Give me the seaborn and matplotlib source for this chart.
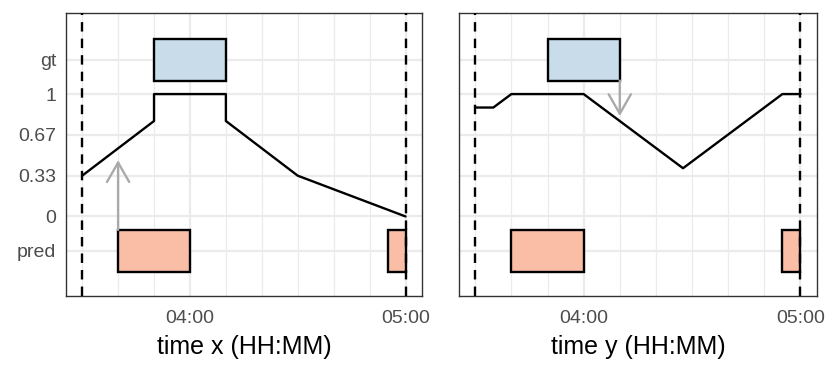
import matplotlib
matplotlib.use("Agg")
import matplotlib.pyplot as plt
from matplotlib.ticker import FixedLocator, MultipleLocator, FuncFormatter
import seaborn as sns
import pandas as pd

# Daten (Zeit in Minuten ab Mitternacht)
start_min, end_min = 210, 300

# Panel x: Kurve
x_curve_t = [210, 230, 230, 250, 250, 270, 300]
x_curve_v = [0.333, 0.78, 1.0, 1.0, 0.78, 0.333, 0.0]
# Panel y: Kurve
y_curve_t = [210, 215, 220, 240, 267.5, 295, 300]
y_curve_v = [0.89, 0.89, 1.0, 1.0, 0.394, 1.0, 1.0]

# Intervalle (Start, Dauer)
gt_start, gt_dur = [230], [20]
pred_start, pred_dur = [220, 295], [20, 5]

# Pfeile: (Zeit, von, bis)
x_arrow = (220, -0.11, 0.46)
y_arrow = (250, 1.11, 0.82)

ytick_pos = [-0.28, 0, 0.333, 0.667, 1, 1.28]
ytick_lab = ["pred", "0", "0.33", "0.67", "1", "gt"]

gt_color = "#c8dde9"
pred_color = "#fabea6"

sns.set_style("white")
plt.rcParams["font.family"] = ["Liberation Sans", "DejaVu Sans"]

fig = plt.figure(figsize=(8.3, 3.74), dpi=100)
W, H = 830, 374
ax1 = fig.add_axes([66 / W, (H - 296) / H, (421.7 - 66) / W, (296 - 13.3) / H])
ax2 = fig.add_axes([459 / W, (H - 296) / H, (816.7 - 459) / W, (296 - 13.3) / H])


def hhmm(v, pos):
    return f"{int(v // 60):02d}:{int(v % 60):02d}"


def draw_panel(ax, t, v, arrow, xlabel, show_labels):
    pad = (end_min - start_min) * 0.05
    ax.set_xlim(start_min - pad, end_min + pad)
    ax.set_ylim(-0.65, 1.66)

    # Gitter
    ax.xaxis.set_major_locator(FixedLocator([240, 300]))
    ax.xaxis.set_minor_locator(MultipleLocator(10))
    ax.xaxis.set_major_formatter(FuncFormatter(hhmm))
    ax.yaxis.set_major_locator(FixedLocator(ytick_pos))
    ax.set_yticklabels(ytick_lab if show_labels else [], fontsize=14)
    ax.grid(True, which="major", color="#ebebeb", lw=1.6, zorder=0)
    ax.grid(True, which="minor", axis="x", color="#ebebeb", lw=0.9, zorder=0)
    ax.set_axisbelow(True)
    ax.tick_params(which="major", length=4, width=1.0, color="#333333",
                   labelcolor="#4d4d4d", labelsize=14, direction="out", pad=3)
    ax.tick_params(axis="x", pad=6)
    ax.tick_params(which="minor", length=0)
    for s in ax.spines.values():
        s.set_color("#333333")
        s.set_linewidth(1.0)

    # Intervalle
    ax.barh(y=1.28, width=gt_dur, left=gt_start, height=0.34, color=gt_color,
            edgecolor="black", linewidth=1.7, zorder=3)
    ax.barh(y=-0.28, width=pred_dur, left=pred_start, height=0.34, color=pred_color,
            edgecolor="black", linewidth=1.7, zorder=3)

    # Kurve
    df = pd.DataFrame({"t": t, "v": v})
    sns.lineplot(data=df, x="t", y="v", sort=False, estimator=None, errorbar=None,
                 color="black", lw=1.7, ax=ax, zorder=4)

    # Start/Ende
    for xv in [start_min, end_min]:
        ax.axvline(xv, color="black", ls=(0, (4, 3)), lw=1.7, zorder=5)

    # Pfeil
    ax.annotate("", xy=(arrow[0], arrow[2]), xytext=(arrow[0], arrow[1]),
                arrowprops=dict(arrowstyle="->,head_length=1.4,head_width=0.8",
                                color="#aaaaaa", lw=1.7, shrinkA=0, shrinkB=0), zorder=4)

    ax.set_xlabel(xlabel, fontsize=18, color="black", labelpad=6)
    ax.set_ylabel("")


draw_panel(ax1, x_curve_t, x_curve_v, x_arrow, "time x (HH:MM)", True)
draw_panel(ax2, y_curve_t, y_curve_v, y_arrow, "time y (HH:MM)", False)

fig.savefig("out.png", dpi=100)
